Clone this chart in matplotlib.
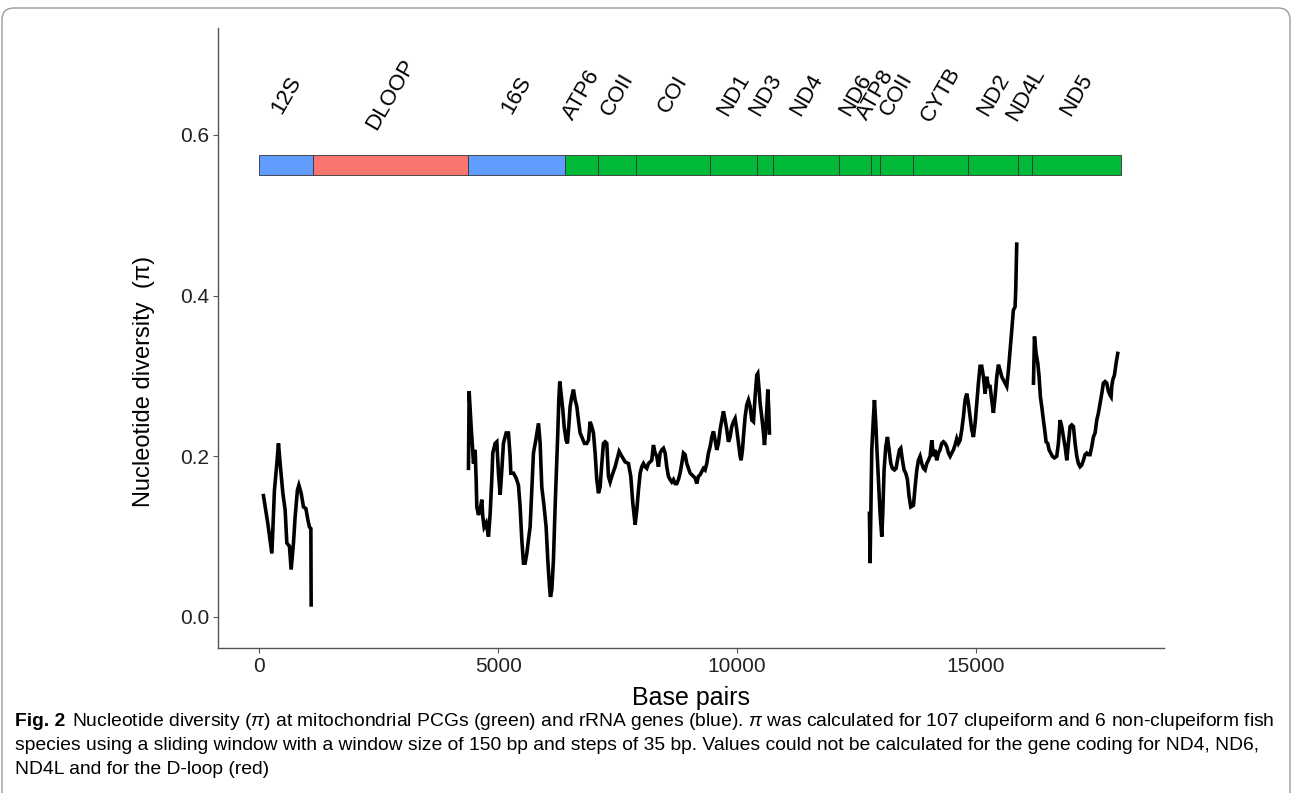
import matplotlib
matplotlib.use('Agg')  # headless
import matplotlib.pyplot as plt
from matplotlib.patches import Rectangle, FancyBboxPatch
from matplotlib.transforms import IdentityTransform
from matplotlib import font_manager

# gene map along the alignment (bp)
gene_names = ['12S', 'DLOOP', '16S', 'ATP6', 'COII', 'COI', 'ND1', 'ND3', 'ND4',
              'ND6', 'ATP8', 'COII', 'CYTB', 'ND2', 'ND4L', 'ND5']
gene_starts = [0, 1123, 4379, 6402, 7098, 7881, 9435, 10412, 10760,
               12140, 12797, 12992, 13688, 14839, 15885, 16178]
gene_ends = [1123, 4379, 6402, 7098, 7881, 9435, 10412, 10760, 12140,
             12797, 12992, 13688, 14839, 15885, 16178, 18027]
gene_types = ['rRNA', 'dloop', 'rRNA'] + ['PCG'] * 13

# sliding-window nucleotide diversity, one list pair per continuous stretch
seg1_bp = [90, 182, 266, 320, 370, 404, 439, 496, 544, 579, 634, 669, 718, 753,
           801, 831, 879, 927, 977, 1019, 1052, 1082, 1088]
seg1_pi = [0.151, 0.116, 0.079, 0.158, 0.191, 0.216, 0.191, 0.154, 0.133, 0.092,
           0.088, 0.059, 0.092, 0.125, 0.158, 0.164, 0.154, 0.137, 0.135, 0.121,
           0.112, 0.110, 0.015]

seg2_bp = [4379, 4393, 4435, 4463, 4484, 4519, 4540, 4554, 4588, 4623, 4658, 4679,
           4707, 4749, 4798, 4833, 4867, 4888, 4937, 4972, 5007, 5042, 5077, 5111,
           5167, 5216, 5251, 5265, 5321, 5376, 5425, 5460, 5495, 5530, 5565, 5600,
           5634, 5669, 5704, 5739, 5788, 5844, 5879, 5913, 5962, 6004, 6039, 6074,
           6095, 6123, 6157, 6192, 6227, 6248, 6269, 6290, 6318, 6353, 6381, 6422,
           6450, 6478, 6506, 6541, 6576, 6611, 6646, 6680, 6715, 6764, 6806, 6855,
           6890, 6925, 6959, 6994, 7029, 7064, 7099, 7134, 7169, 7203, 7238, 7273,
           7308, 7343, 7378, 7448, 7482, 7531, 7587, 7657, 7726, 7775, 7817, 7866,
           7901, 7936, 7971, 8005, 8040, 8075, 8110, 8145, 8214, 8249, 8284, 8319,
           8354, 8389, 8424, 8459, 8494, 8528, 8563, 8598, 8633, 8668, 8703, 8738,
           8772, 8807, 8842, 8877, 8912, 8947, 8982, 9017, 9051, 9086, 9121, 9156,
           9191, 9226, 9261, 9295, 9330, 9365, 9400, 9435, 9470, 9505, 9540, 9574,
           9609, 9644, 9679, 9714, 9749, 9784, 9819, 9853, 9888, 9923, 9958, 9993,
           10028, 10063, 10083, 10112, 10132, 10167, 10202, 10237, 10272, 10307,
           10342, 10376, 10411, 10432, 10460, 10481, 10516, 10551, 10572, 10593,
           10621, 10642, 10662, 10676]
seg2_pi = [0.185, 0.281, 0.237, 0.212, 0.191, 0.208, 0.171, 0.137, 0.127, 0.133,
           0.146, 0.125, 0.112, 0.117, 0.100, 0.129, 0.171, 0.204, 0.216, 0.218,
           0.179, 0.152, 0.183, 0.216, 0.229, 0.229, 0.200, 0.179, 0.179, 0.173,
           0.164, 0.137, 0.096, 0.067, 0.067, 0.079, 0.096, 0.112, 0.158, 0.204,
           0.220, 0.241, 0.216, 0.162, 0.137, 0.112, 0.071, 0.038, 0.025, 0.034,
           0.071, 0.137, 0.195, 0.229, 0.270, 0.293, 0.278, 0.258, 0.237, 0.220,
           0.216, 0.237, 0.262, 0.274, 0.283, 0.270, 0.262, 0.245, 0.229, 0.222,
           0.216, 0.216, 0.220, 0.243, 0.237, 0.229, 0.204, 0.171, 0.154, 0.162,
           0.191, 0.216, 0.218, 0.216, 0.175, 0.168, 0.175, 0.187, 0.195, 0.206,
           0.200, 0.193, 0.191, 0.175, 0.142, 0.115, 0.133, 0.158, 0.179, 0.187,
           0.191, 0.187, 0.185, 0.191, 0.195, 0.214, 0.204, 0.200, 0.187, 0.204,
           0.208, 0.210, 0.204, 0.187, 0.175, 0.171, 0.168, 0.171, 0.166, 0.166,
           0.171, 0.179, 0.191, 0.204, 0.202, 0.191, 0.185, 0.179, 0.177, 0.175,
           0.173, 0.166, 0.175, 0.177, 0.181, 0.185, 0.183, 0.191, 0.204, 0.212,
           0.224, 0.231, 0.220, 0.208, 0.216, 0.233, 0.245, 0.256, 0.245, 0.233,
           0.218, 0.224, 0.237, 0.243, 0.247, 0.233, 0.216, 0.200, 0.195, 0.208,
           0.224, 0.249, 0.264, 0.270, 0.262, 0.245, 0.243, 0.274, 0.301, 0.303,
           0.283, 0.266, 0.249, 0.229, 0.214, 0.229, 0.258, 0.283, 0.258, 0.229]

seg3_bp = [12768, 12782, 12817, 12852, 12873, 12901, 12922, 12956, 12991, 13026,
           13047, 13075, 13110, 13145, 13180, 13215, 13249, 13291, 13326, 13354,
           13396, 13424, 13459, 13493, 13528, 13563, 13598, 13633, 13689, 13724,
           13759, 13793, 13828, 13863, 13898, 13933, 13968, 14002, 14037, 14072,
           14107, 14142, 14177, 14212, 14246, 14281, 14316, 14351, 14386, 14421,
           14456, 14490, 14525, 14560, 14595, 14630, 14665, 14700, 14734, 14769,
           14804, 14839, 14874, 14909, 14944, 14979, 15014, 15048, 15083, 15118,
           15153, 15188, 15223, 15258, 15292, 15327, 15362, 15397, 15432, 15467,
           15502, 15536, 15571, 15606, 15641, 15676, 15711, 15746, 15780, 15815,
           15829, 15850]
seg3_pi = [0.129, 0.067, 0.208, 0.249, 0.270, 0.241, 0.212, 0.171, 0.129, 0.100,
           0.129, 0.183, 0.212, 0.224, 0.208, 0.191, 0.185, 0.183, 0.185, 0.195,
           0.208, 0.210, 0.195, 0.183, 0.179, 0.171, 0.150, 0.137, 0.139, 0.162,
           0.183, 0.195, 0.200, 0.191, 0.185, 0.183, 0.191, 0.195, 0.200, 0.220,
           0.200, 0.208, 0.195, 0.204, 0.208, 0.216, 0.218, 0.216, 0.212, 0.204,
           0.200, 0.204, 0.208, 0.214, 0.222, 0.216, 0.220, 0.233, 0.249, 0.270,
           0.278, 0.266, 0.249, 0.233, 0.224, 0.241, 0.266, 0.291, 0.312, 0.312,
           0.299, 0.278, 0.299, 0.287, 0.287, 0.270, 0.254, 0.274, 0.299, 0.314,
           0.307, 0.299, 0.295, 0.291, 0.287, 0.307, 0.332, 0.357, 0.382, 0.386,
           0.407, 0.464]

seg4_bp = [16200, 16221, 16255, 16290, 16318, 16345, 16373, 16408, 16443, 16464,
           16499, 16527, 16562, 16596, 16638, 16687, 16722, 16757, 16792, 16827,
           16862, 16897, 16931, 16966, 17001, 17036, 17071, 17106, 17140, 17175,
           17210, 17245, 17280, 17315, 17350, 17384, 17419, 17454, 17489, 17524,
           17559, 17594, 17629, 17663, 17698, 17733, 17768, 17803, 17824, 17838,
           17859, 17894, 17929, 17963]
seg4_pi = [0.291, 0.349, 0.328, 0.316, 0.299, 0.274, 0.262, 0.245, 0.229, 0.218,
           0.216, 0.208, 0.204, 0.200, 0.198, 0.200, 0.216, 0.245, 0.237, 0.224,
           0.212, 0.195, 0.216, 0.237, 0.239, 0.237, 0.216, 0.200, 0.191, 0.187,
           0.189, 0.195, 0.202, 0.204, 0.202, 0.202, 0.212, 0.224, 0.229, 0.245,
           0.254, 0.266, 0.278, 0.291, 0.293, 0.291, 0.281, 0.276, 0.274, 0.287,
           0.295, 0.301, 0.316, 0.328]

type_colors = {'rRNA': '#619CFF', 'dloop': '#F8766D', 'PCG': '#00BA38'}

installed = {f.name for f in font_manager.fontManager.ttflist}
cap_font = 'Liberation Sans Narrow' if 'Liberation Sans Narrow' in installed else 'Liberation Sans'
plt.rcParams['font.family'] = ['Liberation Sans', 'DejaVu Sans']
plt.rcParams['mathtext.fontset'] = 'custom'
plt.rcParams['mathtext.it'] = cap_font + ':italic'

W, H = 1293, 793
fig = plt.figure(figsize=(W / 100, H / 100), dpi=100)
ax = fig.add_axes([218 / W, 145 / H, (1164 - 218) / W, (765 - 145) / H])

# gene bar and labels
for name, s, e, t in zip(gene_names, gene_starts, gene_ends, gene_types):
    ax.add_patch(Rectangle((s, 0.55), e - s, 0.025, facecolor=type_colors[t],
                           edgecolor='#333333', linewidth=0.6))
    ax.text((s + e) / 2, 0.650, name, rotation=60, rotation_mode='anchor',
            ha='center', va='center', fontsize=16)

for xs, ys in [(seg1_bp, seg1_pi), (seg2_bp, seg2_pi), (seg3_bp, seg3_pi), (seg4_bp, seg4_pi)]:
    ax.plot(xs, ys, color='black', linewidth=2.6, solid_joinstyle='miter')

ax.set_xlim(-861, 18931)
ax.set_ylim(-0.0386, 0.733)
ax.set_xticks([0, 5000, 10000, 15000])
ax.set_yticks([0, 0.2, 0.4, 0.6])
ax.set_yticklabels(['0.0', '0.2', '0.4', '0.6'])
ax.tick_params(labelsize=15, length=3.5, width=0.8, color='#555555', pad=3,
               labelcolor='#222222')
for side in ['top', 'right']:
    ax.spines[side].set_visible(False)
for side in ['left', 'bottom']:
    ax.spines[side].set_color('#555555')
    ax.spines[side].set_linewidth(1.0)

ax.set_xlabel('Base pairs', fontsize=18, labelpad=7)
ax.set_ylabel('Nucleotide diversity  (\u03c0)', fontsize=17)
ax.yaxis.set_label_coords(-0.067, 0.43)

# rounded frame of the figure panel
frame = FancyBboxPatch((2, -30), W - 5, H - 8 + 30, boxstyle='round,pad=0,rounding_size=12',
                       transform=IdentityTransform(), facecolor='none',
                       edgecolor='#9a9a9a', linewidth=1.0)
fig.patches.append(frame)

# caption
x0 = 15 / W
line_y = [(H - 721) / H, (H - 745) / H, (H - 769) / H]
cap_size = 13.9
bold = fig.text(x0, line_y[0], 'Fig. 2', fontsize=cap_size, fontweight='bold',
                family=[cap_font, 'DejaVu Sans'], va='center')
renderer = fig.canvas.get_renderer()
bb = bold.get_window_extent(renderer)
fig.text((bb.x1 + 7) / W, line_y[0],
         r'Nucleotide diversity ($\pi$) at mitochondrial PCGs (green) and rRNA genes (blue). '
         r'$\pi$ was calculated for 107 clupeiform and 6 non-clupeiform fish',
         fontsize=cap_size, family=[cap_font, 'DejaVu Sans'], va='center')
fig.text(x0, line_y[1],
         'species using a sliding window with a window size of 150 bp and steps of 35 bp. '
         'Values could not be calculated for the gene coding for ND4, ND6,',
         fontsize=cap_size, family=[cap_font, 'DejaVu Sans'], va='center')
fig.text(x0, line_y[2], 'ND4L and for the D-loop (red)',
         fontsize=cap_size, family=[cap_font, 'DejaVu Sans'], va='center')

fig.savefig('out.png', dpi=100)
